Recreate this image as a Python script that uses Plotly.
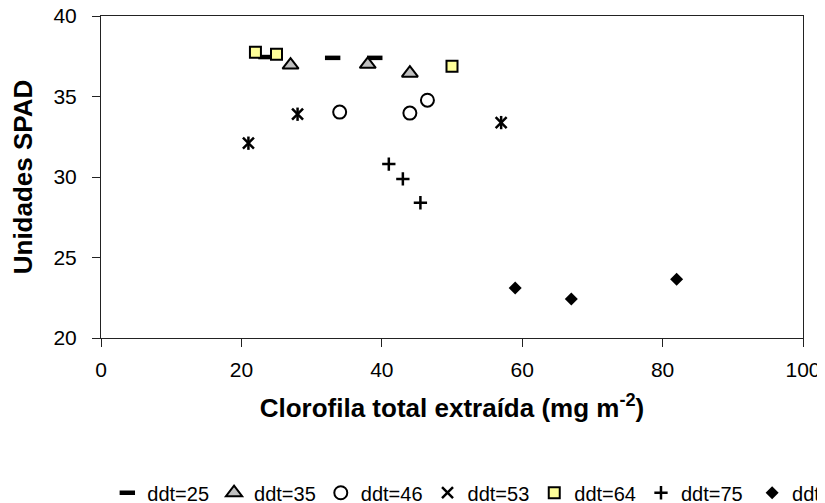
import plotly.graph_objects as go

# Data
x_25 = [23.5, 33, 39]
y_25 = [37.45, 37.4, 37.4]
x_35 = [27, 38, 44]
y_35 = [36.95, 37.0, 36.45]
x_46 = [34, 44, 46.5]
y_46 = [34.03, 33.97, 34.77]
x_53 = [21, 28, 57]
y_53 = [32.1, 33.9, 33.38]
x_64 = [22, 25, 50]
y_64 = [37.75, 37.63, 36.88]
x_75 = [41, 43, 45.5]
y_75 = [30.8, 29.88, 28.4]
x_82 = [59, 67, 82]
y_82 = [23.1, 22.43, 23.65]

x_ticks = [0, 20, 40, 60, 80, 100]
y_ticks = [20, 25, 30, 35, 40]

FONT = "Liberation Sans, Arial, sans-serif"
BLACK = "#000000"

fig = go.Figure()

fig.add_trace(go.Scatter(x=x_25, y=y_25, mode="markers", name="ddt=25",
                         marker=dict(symbol="line-ew-open", size=11, color=BLACK,
                                     line=dict(color=BLACK, width=4.5))))
fig.add_trace(go.Scatter(x=x_35, y=y_35, mode="markers", name="ddt=35",
                         marker=dict(symbol="triangle-up", size=14, color="#C0C0C0",
                                     line=dict(color=BLACK, width=2))))
fig.add_trace(go.Scatter(x=x_46, y=y_46, mode="markers", name="ddt=46",
                         marker=dict(symbol="circle-open", size=13, color=BLACK,
                                     line=dict(color=BLACK, width=2))))
fig.add_trace(go.Scatter(x=x_53, y=y_53, mode="markers", name="ddt=53",
                         legendgroup="g53",
                         marker=dict(symbol="x-thin-open", size=11, color=BLACK,
                                     line=dict(color=BLACK, width=2.5))))
fig.add_trace(go.Scatter(x=x_53, y=y_53, mode="markers", name="ddt=53",
                         legendgroup="g53", showlegend=False,
                         marker=dict(symbol="line-ns-open", size=9.5, color=BLACK,
                                     line=dict(color=BLACK, width=2.5))))
fig.add_trace(go.Scatter(x=x_64, y=y_64, mode="markers", name="ddt=64",
                         marker=dict(symbol="square", size=11, color="#FFFF99",
                                     line=dict(color=BLACK, width=2))))
fig.add_trace(go.Scatter(x=x_75, y=y_75, mode="markers", name="ddt=75",
                         marker=dict(symbol="cross-thin-open", size=9.5, color=BLACK,
                                     line=dict(color=BLACK, width=2.5))))
fig.add_trace(go.Scatter(x=x_82, y=y_82, mode="markers", name="ddt=82",
                         legend="legend2",
                         marker=dict(symbol="diamond", size=10, color=BLACK,
                                     line=dict(color=BLACK, width=0))))

axis_common = dict(
    showline=True, linecolor="#222222", linewidth=1, mirror=True,
    ticks="outside", ticklen=8, tickcolor="#222222", tickwidth=1,
    showgrid=False, zeroline=False, ticklabeloverflow="allow",
    tickfont=dict(family=FONT, size=21, color=BLACK),
)

# The page body adds an 8px offset, so the figure is 8px smaller than the window
fig.update_layout(
    width=817, height=495,
    margin=dict(l=93, r=22, t=8, b=165, autoexpand=False),
    paper_bgcolor="white", plot_bgcolor="white",
    font=dict(family=FONT, color=BLACK),
    xaxis=dict(range=[0, 100], tickvals=x_ticks, ticklabelstandoff=5, **axis_common,
               title=dict(text="Clorofila total extraída (mg m<sup>-2</sup>)",
                          font=dict(family=FONT, size=26, color=BLACK, weight="bold"),
                          standoff=18)),
    yaxis=dict(range=[20, 40], tickvals=y_ticks, ticklabelstandoff=11, **axis_common,
               title=dict(text="Unidades SPAD",
                          font=dict(family=FONT, size=26, color=BLACK, weight="bold"),
                          standoff=19)),
    showlegend=True,
    legend=dict(orientation="h", x=0.009, xanchor="left", y=-0.42, yanchor="top",
                font=dict(family=FONT, size=20, color=BLACK),
                itemsizing="trace", itemwidth=30, bgcolor="rgba(0,0,0,0)"),
    legend2=dict(orientation="h", x=0.9275, xanchor="left", y=-0.42, yanchor="top",
                 font=dict(family=FONT, size=20, color=BLACK),
                 itemsizing="trace", itemwidth=30, bgcolor="rgba(0,0,0,0)"),
)

fig.write_html("out.html")
